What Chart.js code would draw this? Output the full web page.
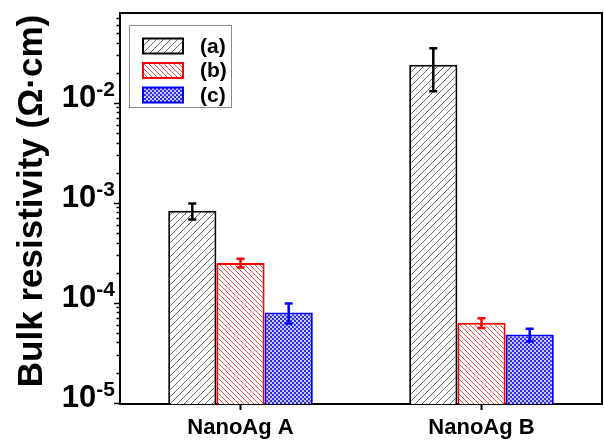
<!DOCTYPE html>
<html><head><meta charset="utf-8">
<script src="https://cdn.jsdelivr.net/npm/chart.js@4.4.0/dist/chart.umd.min.js"></script>
<style>html,body{margin:0;padding:0;background:#fff}#wrap{width:604px;height:441px;position:relative}</style>
</head><body><div id="wrap"><canvas id="c"></canvas></div>
<script>
const categories = ['NanoAg A', 'NanoAg B'];
const seriesLabels = ['(a)', '(b)', '(c)'];
const valuesA = [8.3e-4, 2.4e-2];
const valuesB = [2.5e-4, 6.3e-5];
const valuesC = [8.0e-5, 4.8e-5];
const errorsA = [1.5e-4, 1.1e-2];
const errorsB = [0.25e-4, 0.7e-5];
const errorsC = [1.8e-5, 0.7e-5];
const yTickExponents = [-5, -4, -3, -2];
const yTitle = 'Bulk resistivity (Ω·cm)';

const FONT = "'Liberation Sans', Arial, sans-serif";

function hatch(color, dir, s, lw) {
  const c = document.createElement('canvas');
  c.width = s; c.height = s;
  const g = c.getContext('2d');
  g.fillStyle = '#fff'; g.fillRect(0, 0, s, s);
  g.strokeStyle = color; g.lineWidth = lw;
  g.beginPath();
  for (let k = -1; k <= 1; k++) {
    if (dir === '/') { g.moveTo(k * s, s); g.lineTo(k * s + s, 0); }
    else { g.moveTo(k * s, 0); g.lineTo(k * s + s, s); }
  }
  g.stroke();
  return g.createPattern(c, 'repeat');
}
function checker(c1, c2) {
  const c = document.createElement('canvas');
  c.width = 4; c.height = 4;
  const g = c.getContext('2d');
  g.fillStyle = c1; g.fillRect(0, 0, 4, 4);
  g.fillStyle = c2; g.fillRect(0, 0, 2, 2); g.fillRect(2, 2, 2, 2);
  return g.createPattern(c, 'repeat');
}

const colors = ['#000000', '#ff0000', '#0000ff'];
const fills = [hatch('#666666', '/', 7, 1), hatch('#e85050', '\\', 5, 1), checker('#3030e0', '#c8c8fa')];
const errors = [errorsA, errorsB, errorsC];
const seriesValues = [valuesA, valuesB, valuesC];

const errorBarPlugin = {
  id: 'errbars',
  afterDatasetsDraw(chart) {
    const ctx = chart.ctx, y = chart.scales.y;
    chart.data.datasets.forEach((ds, i) => {
      const meta = chart.getDatasetMeta(i);
      meta.data.forEach((el, j) => {
        const v = ds.data[j], e = errors[i][j];
        const yt = y.getPixelForValue(v + e), yb = y.getPixelForValue(v - e);
        ctx.save();
        ctx.strokeStyle = colors[i]; ctx.lineWidth = 2.5;
        ctx.beginPath();
        ctx.moveTo(el.x, yt); ctx.lineTo(el.x, yb);
        ctx.moveTo(el.x - 4, yt); ctx.lineTo(el.x + 4, yt);
        ctx.moveTo(el.x - 4, yb); ctx.lineTo(el.x + 4, yb);
        ctx.stroke();
        ctx.restore();
      });
    });
  }
};

const framePlugin = {
  id: 'frame',
  afterDraw(chart) {
    const ctx = chart.ctx, a = chart.chartArea, y = chart.scales.y;
    ctx.save();
    ctx.strokeStyle = '#000'; ctx.lineWidth = 2;
    ctx.beginPath();
    ctx.moveTo(a.left, a.top); ctx.lineTo(a.right, a.top); ctx.lineTo(a.right, a.bottom);
    ctx.stroke();
    // y ticks
    ctx.lineWidth = 1.5;
    ctx.beginPath();
    yTickExponents.forEach(p => {
      for (let m = 1; m <= 9; m++) {
        const v = m * Math.pow(10, p);
        if (v < y.min || v > y.max) continue;
        const py = Math.round(y.getPixelForValue(v)) + 0.5;
        const len = m === 1 ? 6 : 3.5;
        ctx.moveTo(a.left - len, py); ctx.lineTo(a.left, py);
      }
    });
    ctx.stroke();
    // y tick labels
    ctx.fillStyle = '#000';
    ctx.textBaseline = 'alphabetic';
    yTickExponents.forEach(p => {
      const py = y.getPixelForValue(Math.pow(10, p));
      ctx.font = 'bold 21px ' + FONT;
      ctx.textAlign = 'right';
      const exp = String(p);
      const ew = ctx.measureText(exp).width;
      const xr = a.left - 5;
      ctx.fillText(exp, xr, py - 7);
      ctx.font = 'bold 31px ' + FONT;
      ctx.fillText('10', xr - ew, py + 4);
    });
    // y title
    ctx.save();
    ctx.translate(32, 201);
    ctx.rotate(-Math.PI / 2);
    ctx.font = 'bold 35px ' + FONT;
    ctx.textAlign = 'center'; ctx.textBaseline = 'middle';
    ctx.fillText(yTitle, 0, 0);
    ctx.restore();
    // legend
    const lx = a.left + 9, ly = a.top + 12;
    ctx.strokeStyle = '#8a8a8a'; ctx.lineWidth = 1;
    ctx.strokeRect(lx + 0.5, ly + 0.5, 102, 82);
    chart.data.datasets.forEach((ds, i) => {
      const cy = ly + 21 + i * 24.5;
      ctx.fillStyle = fills[i];
      ctx.fillRect(lx + 14, cy - 7.5, 40, 15);
      ctx.strokeStyle = colors[i]; ctx.lineWidth = 2;
      ctx.strokeRect(lx + 14, cy - 7.5, 40, 15);
      ctx.fillStyle = '#000';
      ctx.font = 'bold 21px ' + FONT;
      ctx.textAlign = 'left'; ctx.textBaseline = 'middle';
      ctx.fillText(ds.label, lx + 71, cy + 1);
    });
    ctx.restore();
  }
};

new Chart(document.getElementById('c'), {
  type: 'bar',
  data: {
    labels: categories,
    datasets: seriesValues.map((vals, i) => ({
      label: seriesLabels[i],
      data: vals,
      backgroundColor: fills[i],
      borderColor: colors[i],
      borderWidth: 2,
      categoryPercentage: 0.6,
      barPercentage: 1.0
    }))
  },
  options: {
    responsive: true,
    maintainAspectRatio: false,
    animation: false,
    layout: { padding: { top: 13, right: 2, left: 0, bottom: 0 } },
    plugins: { legend: { display: false }, tooltip: { enabled: false }, title: { display: false } },
    scales: {
      x: {
        grid: { display: true, drawOnChartArea: false, offset: false, tickLength: 6, tickWidth: 2, tickColor: '#000' },
        border: { display: true, color: '#000', width: 2 },
        ticks: { color: '#000', font: { family: FONT, size: 22, weight: 'bold' }, padding: 5 },
        afterFit: s => { s.height = 37; }
      },
      y: {
        type: 'logarithmic',
        min: 9.7e-6,
        max: 0.079,
        grid: { display: true, drawOnChartArea: false, drawTicks: false },
        border: { display: true, color: '#000', width: 2 },
        ticks: { display: false },
        title: { display: false },
        afterFit: s => { s.width = 120; }
      }
    }
  },
  plugins: [errorBarPlugin, framePlugin]
});
</script>
</body></html>
